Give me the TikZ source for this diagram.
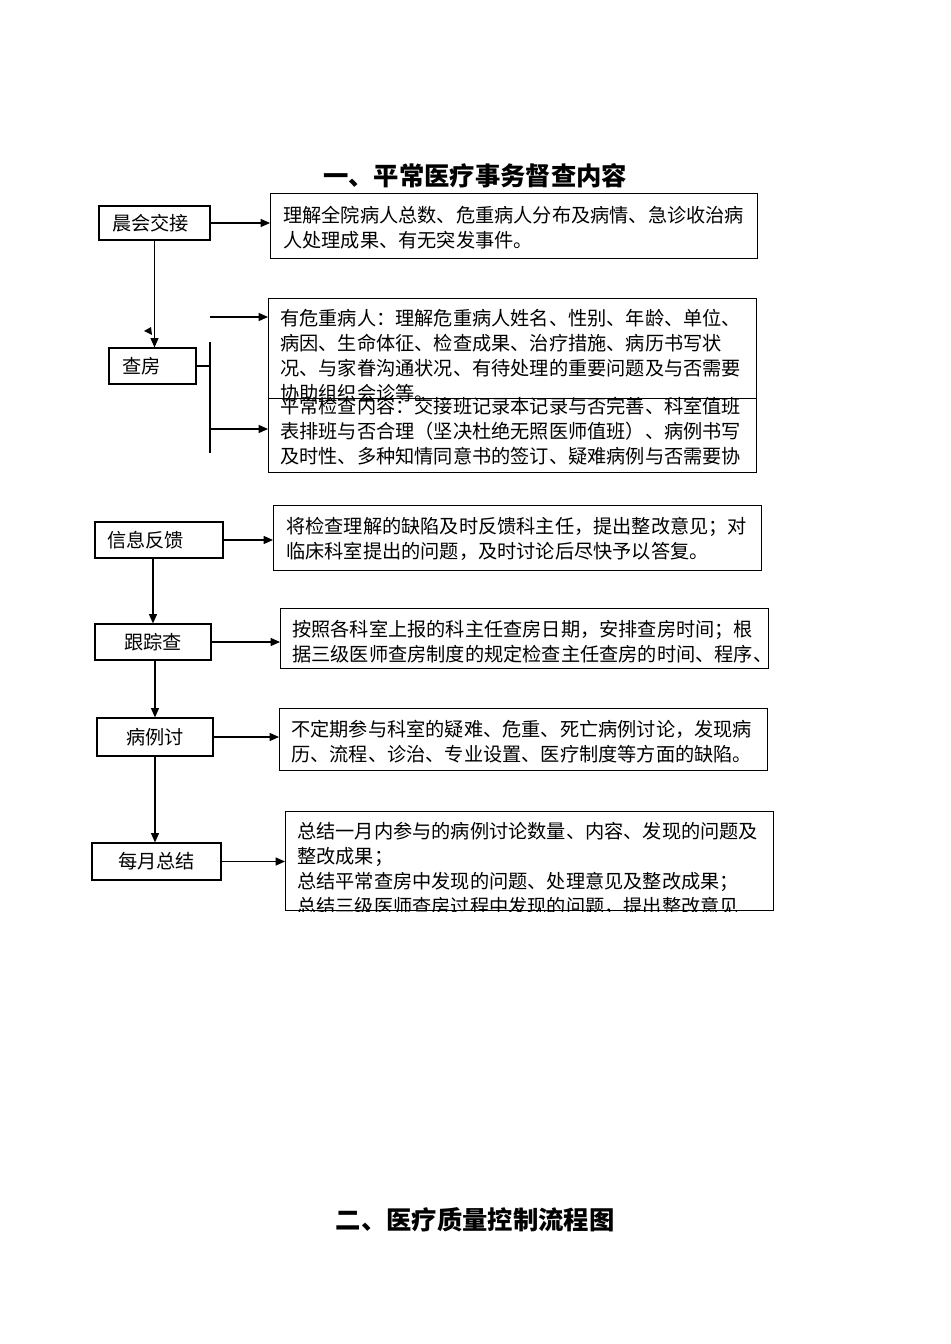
\documentclass[tikz,border=0pt]{standalone}
\usepackage{fontspec}
\setmainfont{Noto Sans CJK SC}
\usetikzlibrary{arrows.meta}
\tikzset{
  stepbox/.style={draw, line width=0.9pt, inner ysep=0pt, font=\fontsize{14.4pt}{18.75pt}\selectfont},
  infobox/.style={draw, line width=0.9pt, anchor=north west, inner sep=0pt},
  infotext/.style={anchor=base west, align=left, inner sep=0pt, font=\fontsize{14.4pt}{18.75pt}\selectfont},
  arr/.style={-{Triangle[length=7pt,width=6pt]}, line width=0.9pt},
  heading/.style={font=\fontsize{19pt}{22pt}\selectfont\bfseries}
}
\begin{document}
\begin{tikzpicture}[x=0.75pt, y=-0.75pt]
  \useasboundingbox (0,0) rectangle (950,1344);
  \node[heading] (title1) at (475,176) {一、平常医疗事务督查内容};
  \node[heading] (title2) at (475,1220) {二、医疗质量控制流程图};

  \node[stepbox, minimum width=83.25pt, minimum height=25.5pt, text width=63.75pt, inner xsep=9.75pt, align=left] (chenhui) at (154.5,223) {晨会交接};
  \node[stepbox, minimum width=65.25pt, minimum height=27pt, text width=45.75pt, inner xsep=9.75pt, align=left] (chafang) at (152.5,366) {查房};
  \node[stepbox, minimum width=96pt, minimum height=27pt, text width=78pt, inner xsep=9pt, align=left] (xinxi) at (159,540) {信息反馈};
  \node[stepbox, minimum width=87pt, minimum height=27pt] (genzong) at (153,642) {跟踪查};
  \node[stepbox, minimum width=87pt, minimum height=28.5pt] (bingli) at (155,737) {病例讨};
  \node[stepbox, minimum width=96.75pt, minimum height=27.75pt] (meiyue) at (156.5,861.5) {每月总结};

  \node[infobox, minimum width=365.25pt, minimum height=48.75pt] (a1) at (270,193) {};
  \node[infotext] (a1t) at (283,248) {理解全院病人总数、危重病人分布及病情、急诊收治病\\人处理成果、有无突发事件。};

  \node[infobox, minimum width=366pt, minimum height=75pt] (b1) at (268,298) {};
  \node[infotext] (b1t) at (280,400) {有危重病人：理解危重病人姓名、性别、年龄、单位、\\病因、生命体征、检查成果、治疗措施、病历书写状\\况、与家眷沟通状况、有待处理的重要问题及与否需要\\协助组织会诊等。};
  \node[infobox, minimum width=366pt, minimum height=55.5pt] (b2) at (268,398) {};
  \node[infotext] (b2t) at (280,463) {平常检查内容：交接班记录本记录与否完善、科室值班\\表排班与否合理（坚决杜绝无照医师值班）、病例书写\\及时性、多种知情同意书的签订、疑难病例与否需要协};

  \node[infobox, minimum width=366pt, minimum height=48.75pt] (c1) at (273,505) {};
  \node[infotext] (c1t) at (286,558) {将检查理解的缺陷及时反馈科主任，提出整改意见；对\\临床科室提出的问题，及时讨论后尽快予以答复。};

  \node[infobox, minimum width=366pt, minimum height=45pt] (d1) at (280,608) {};
  \node[infotext] (d1t) at (292,661) {按照各科室上报的科主任查房日期，安排查房时间；根\\据三级医师查房制度的规定检查主任查房的时间、程序、};

  \node[infobox, minimum width=366pt, minimum height=46.5pt] (e1) at (279,708) {};
  \node[infotext] (e1t) at (291,761) {不定期参与科室的疑难、危重、死亡病例讨论，发现病\\历、流程、诊治、专业设置、医疗制度等方面的缺陷。};

  \node[infobox, minimum width=366pt, minimum height=74.25pt] (f1) at (285,811) {};
  \begin{scope}
    \clip (f1.north west) rectangle (f1.south east);
    \node[infotext] (f1t) at (297,913) {总结一月内参与的病例讨论数量、内容、发现的问题及\\整改成果；\\总结平常查房中发现的问题、处理意见及整改成果；\\总结三级医师查房过程中发现的问题，提出整改意见};
  \end{scope}

  \coordinate (fork) at (210,366);
  \coordinate (forktop) at (210,342);
  \coordinate (forkbot) at (210,453);
  \coordinate (up) at (210,317);
  \coordinate (dn) at (210,429);

  \draw[arr] (chenhui.east) -- (chenhui.east -| a1.west);
  \draw[arr] (chenhui.south) -- (chenhui.south |- chafang.north);
  \fill (144,331) -- (151,327) -- (152,335) -- cycle;
  \draw[line width=0.9pt] (chafang.east) -- (fork);
  \draw[line width=0.9pt] (forktop) -- (forkbot);
  \draw[arr] (up) -- (up -| b1.west);
  \draw[arr] (dn) -- (dn -| b2.west);
  \draw[arr] (xinxi.east) -- (xinxi.east -| c1.west);
  \draw[arr] (xinxi.south -| genzong.north) -- (genzong.north);
  \draw[arr] (genzong.east) -- (genzong.east -| d1.west);
  \draw[arr] (genzong.south -| bingli.north) -- (bingli.north);
  \draw[arr] (bingli.east) -- (bingli.east -| e1.west);
  \draw[arr] (bingli.south) -- (bingli.south |- meiyue.north);
  \draw[arr] (meiyue.east) -- (meiyue.east -| f1.west);
\end{tikzpicture}
\end{document}
